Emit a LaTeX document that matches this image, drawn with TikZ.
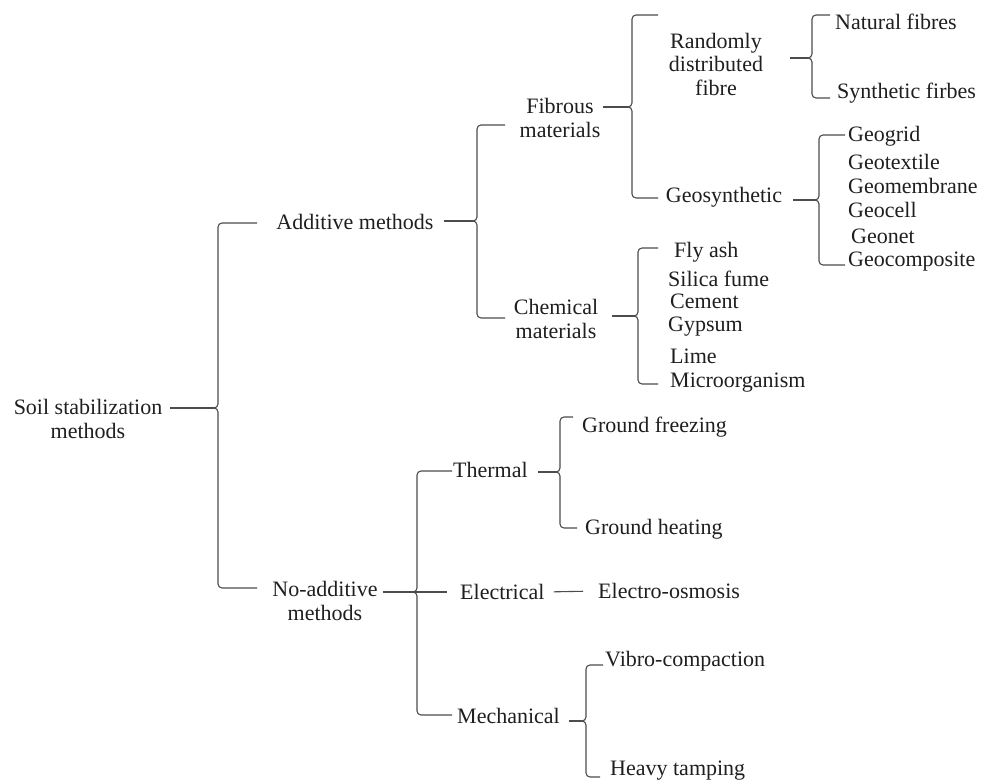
\documentclass[tikz,border=0pt]{standalone}
\usepackage{fontspec}
\setmainfont{Liberation Serif}
\begin{document}
\begin{tikzpicture}[x=1pt,y=-1pt,
  txt/.style={inner sep=0pt, font=\fontsize{22}{24}\selectfont, text=black!88, align=center},
  lft/.style={txt, anchor=west},
  conn/.style={draw=black!70, line width=1.1pt}]
\useasboundingbox[fill=white] (0,0) rectangle (983,783);
\newcommand\mybrace[8]{%
  \coordinate (#1-c) at ({#3-4},#4);
  \draw[conn, shorten <=#2] (#1.east |- #1-c) -- (#1-c);
  \draw[conn, rounded corners=4pt] (#7,#5) -- (#3,#5) -- (#3,#4) -- (#1-c);
  \draw[conn, rounded corners=4pt] (#1-c) -- (#3,#4) -- (#3,#6) -- (#8,#6);
}
% nodes
\node[txt] (soil) at (88,419) {Soil stabilization\\methods};
\node[txt] (add) at (355,222) {Additive methods};
\node[txt] (noadd) at (325,601) {No-additive\\methods};
\node[txt] (fib) at (560,118) {Fibrous\\materials};
\node[txt] (chem) at (556,319) {Chemical\\materials};
\node[txt, font=\fontsize{22}{23.5}\selectfont] (rand) at (716,64) {Randomly\\distributed\\fibre};
\node[txt] (geos) at (724,197) {Geosynthetic};
\node[lft] (nat) at (835,22) {Natural fibres};
\node[lft] (syn) at (837,93) {Synthetic firbes};
\node[lft] (g1) at (848,136) {Geogrid};
\node[lft] (g2) at (848,162) {Geotextile};
\node[lft] (g3) at (848,186) {Geomembrane};
\node[lft] (g4) at (848,210) {Geocell};
\node[lft] (g5) at (851,236) {Geonet};
\node[lft] (g6) at (848,262) {Geocomposite};
\node[lft] (c1) at (674,252) {Fly ash};
\node[lft] (c2) at (668,279) {Silica fume};
\node[lft] (c3) at (670,301) {Cement};
\node[lft] (c4) at (668,327) {Gypsum};
\node[lft] (c5) at (670,356) {Lime};
\node[lft] (c6) at (670,383) {Microorganism};
\node[lft] (therm) at (453,470) {Thermal};
\node[lft] (elec) at (460,592) {Electrical};
\node[lft] (mech) at (457,716) {Mechanical};
\node[lft] (gf) at (582,427) {Ground freezing};
\node[lft] (gh) at (585,529) {Ground heating};
\node[lft] (eo) at (598,591) {Electro-osmosis};
\node[lft] (vc) at (605,661) {Vibro-compaction};
\node[lft] (ht) at (610,771) {Heavy tamping};
% braces
\mybrace{soil}{8pt}{218}{408}{223}{588}{257}{257}
\mybrace{add}{10pt}{477}{221}{125}{318}{505}{505}
\mybrace{fib}{2pt}{632}{107}{15}{198}{658}{658}
\mybrace{rand}{27pt}{812}{58}{15}{98}{830}{830}
\mybrace{geos}{11pt}{819}{200}{135}{265}{845}{845}
\mybrace{chem}{14pt}{638}{316}{248}{384}{658}{658}
\mybrace{noadd}{5pt}{417}{592}{471}{715}{452}{452}
\draw[conn] (noadd-c) -- (447,592);
\mybrace{therm}{10pt}{560}{472}{417}{528}{573}{577}
\mybrace{mech}{9pt}{586}{721}{665}{777}{603}{600}
\draw[conn, shorten <=9pt, shorten >=15pt] (elec.east) -- (eo.west);
\end{tikzpicture}
\end{document}
